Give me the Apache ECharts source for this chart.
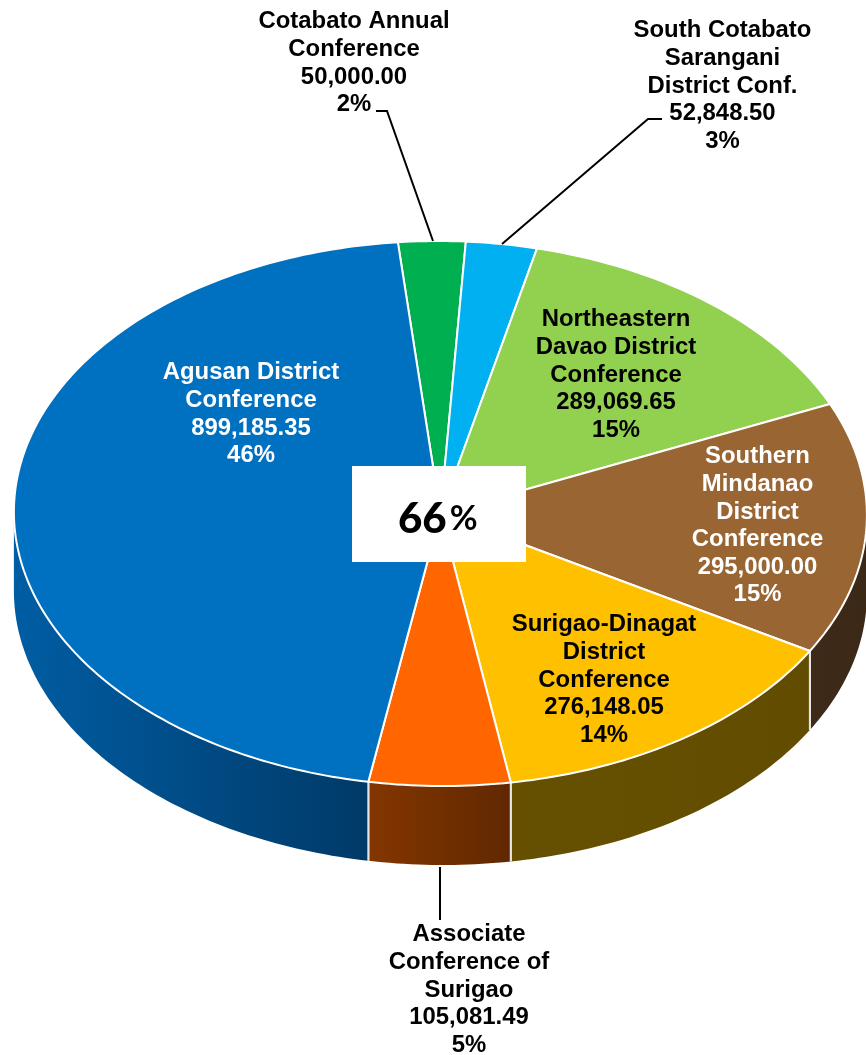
<!DOCTYPE html>
<html lang="en">
<head>
  <meta charset="UTF-8">
  <title>Conference shares</title>
  <style>
    html,body { margin:0; padding:0; background:#fff; }
    #main { width:866px; height:1055px; }
  </style>
</head>
<body>
  <div id="main"></div>
  <script src="https://cdn.jsdelivr.net/npm/echarts@6/dist/echarts.min.js"></script>
  <script>
    // clockwise, starting with the slice at the top of the pie
    const categories = [
      'Cotabato Annual\nConference',
      'South Cotabato\nSarangani\nDistrict Conf.',
      'Northeastern\nDavao District\nConference',
      'Southern\nMindanao\nDistrict\nConference',
      'Surigao-Dinagat\nDistrict\nConference',
      'Associate\nConference of\nSurigao',
      'Agusan District\nConference'
    ];
    const values = [50000.00, 52848.50, 289069.65, 295000.00, 276148.05, 105081.49, 899185.35];
    const percentLabels = ['2%', '3%', '15%', '15%', '14%', '5%', '46%'];
    const centerValue = '66';
    const centerUnit = '%';

    const topColors = ['#00b050', '#00b0f0', '#92d050', '#996633', '#ffc000', '#ff6600', '#0070c0'];
    // left colour, right colour of each visible wall
    const wallColors = [
      ['#005a28', '#005a28'], ['#005878', '#005878'], ['#496828', '#496828'],
      ['#3e2a18', '#3b2817'], ['#665000', '#624c00'], ['#843600', '#602800'], ['#005da3', '#003a68']
    ];
    const labelColors = ['#000', '#000', '#000', '#fff', '#000', '#000', '#fff'];
    const labelPos = [[354, 8], [722.5, 17], [616, 306], [757.5, 443], [604, 611], [469, 921], [251, 359]];
    const leaders = [
      [[376, 111], [387, 111], [433, 241]],
      [[662, 119], [648, 119], [502, 244]],
      [[440, 867], [440, 920]]
    ];

    const cx = 440.4, cy = 513.5, rx = 426.5, ry = 272.5, depth = 79, skew = 0.009;
    const startDeg = -5.4;
    const total = values.reduce((a, b) => a + b, 0);

    // deg is measured clockwise from the top of the ellipse
    function pt(deg, dy) {
      const r = deg * Math.PI / 180;
      const y = -ry * Math.cos(r);
      return [cx + rx * Math.sin(r) + skew * y, cy + y + (dy || 0)];
    }
    function arc(a0, a1, dy) {
      const pts = [];
      const n = Math.max(2, Math.ceil(Math.abs(a1 - a0)));
      for (let i = 0; i <= n; i++) pts.push(pt(a0 + (a1 - a0) * i / n, dy));
      return pts;
    }
    function sliceRange(index) {
      let sum = 0;
      for (let i = 0; i < index; i++) sum += values[i];
      return [startDeg + sum / total * 360, startDeg + (sum + values[index]) / total * 360];
    }

    function renderTop(params, api) {
      const i = params.dataIndex;
      const [a0, a1] = sliceRange(i);
      return {
        type: 'polygon',
        shape: { points: [[cx, cy]].concat(arc(a0, a1)) },
        style: { fill: topColors[i], stroke: '#fff', lineWidth: 2, lineJoin: 'round' }
      };
    }

    function renderWall(params, api) {
      const i = params.dataIndex;
      const [a0, a1] = sliceRange(i);
      const from = Math.max(a0, 90), to = Math.min(a1, 270);
      if (to <= from) return { type: 'group', children: [] };
      const children = [{
        type: 'polygon',
        shape: { points: arc(from, to).concat(arc(to, from, depth)) },
        style: {
          fill: {
            type: 'linear', x: 0, y: 0, x2: 1, y2: 0,
            colorStops: [{ offset: 0, color: wallColors[i][0] }, { offset: 1, color: wallColors[i][1] }]
          }
        }
      }];
      [a0, a1].forEach(a => {
        if (a > 90 && a < 270) {
          const p = pt(a), q = pt(a, depth);
          children.push({
            type: 'line',
            shape: { x1: p[0], y1: p[1], x2: q[0], y2: q[1] },
            style: { stroke: '#e6e6e6', lineWidth: 2 }
          });
        }
      });
      return { type: 'group', children: children };
    }

    const seriesData = values.map((v, i) => ({ name: categories[i], value: v }));

    const labelTexts = categories.map((c, i) => ({
      type: 'text',
      x: labelPos[i][0],
      y: labelPos[i][1],
      z: 20,
      style: {
        text: c + '\n' + values[i].toLocaleString('en-US', { minimumFractionDigits: 2 }) + '\n' + percentLabels[i],
        fill: labelColors[i],
        fontFamily: 'Liberation Sans',
        fontWeight: 'bold',
        fontSize: 23.9,
        lineHeight: 27.6,
        align: 'center',
        verticalAlign: 'top'
      }
    }));

    const leaderLines = leaders.map(p => ({
      type: 'polyline',
      z: 15,
      shape: { points: p },
      style: { stroke: '#000', lineWidth: 2, fill: null }
    }));

    const centerBox = [
      { type: 'rect', z: 16, shape: { x: 352, y: 466, width: 174, height: 96 }, style: { fill: '#fff' } },
      {
        type: 'text', x: 398, y: 519, z: 17,
        style: {
          text: '{a|' + centerValue + '}{b|' + centerUnit + '}',
          align: 'left',
          verticalAlign: 'middle',
          rich: {
            a: { fontFamily: 'Lato', fontWeight: 900, fontSize: 42, fill: '#000' },
            b: { fontFamily: 'Lato', fontWeight: 'bold', fontSize: 34, fill: '#000', padding: [0, 0, 0, 3] }
          }
        }
      }
    ];

    const myChart = echarts.init(document.getElementById('main'), null, { renderer: 'canvas' });
    myChart.setOption({
      animation: false,
      backgroundColor: '#fff',
      series: [
        { type: 'custom', coordinateSystem: 'none', silent: true, z: 1, data: seriesData, renderItem: renderWall },
        { type: 'custom', coordinateSystem: 'none', silent: true, z: 2, data: seriesData, renderItem: renderTop }
      ],
      graphic: { elements: leaderLines.concat(centerBox, labelTexts) }
    });
  </script>
</body>
</html>
